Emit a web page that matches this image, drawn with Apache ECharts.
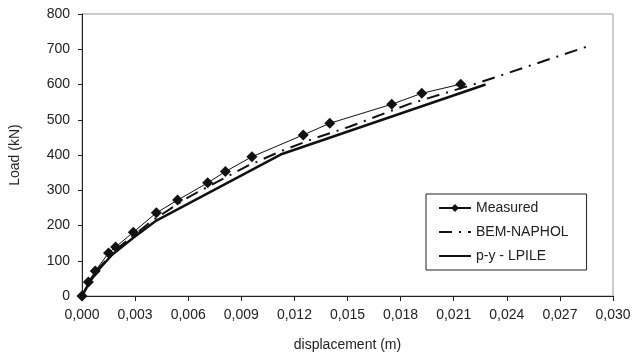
<!DOCTYPE html>
<html>
<head>
<meta charset="utf-8">
<script src="https://cdn.jsdelivr.net/npm/echarts@6/dist/echarts.min.js"></script>
<style>
  html, body { margin: 0; padding: 0; background: #fff; }
  #chart { width: 636px; height: 358px; }
</style>
</head>
<body>
<div id="chart"></div>
<script>
// measured load test
var measuredX = [0, 0.00036, 0.00075, 0.0015, 0.0019, 0.0029, 0.0042, 0.0054, 0.0071, 0.0081, 0.0096, 0.0125, 0.0140, 0.0175, 0.0192, 0.0214];
var measuredY = [0, 40, 71, 122, 139, 181, 236, 272, 321, 353, 395, 457, 490, 544, 575, 601];

// BEM-NAPHOL
var bemX = [0, 0.0005, 0.001, 0.002, 0.003, 0.004, 0.006, 0.0093, 0.0112, 0.013, 0.0151, 0.0185, 0.0223, 0.0285];
var bemY = [0, 48, 82, 135, 175, 215, 280, 368, 410, 445, 480, 545, 603, 707];

// p-y LPILE
var lpileX = [0, 0.0005, 0.001, 0.0017, 0.0029, 0.0042, 0.0113, 0.0228];
var lpileY = [0, 45, 78, 117, 165, 214, 403, 600];

function pairs(xs, ys) {
  return xs.map(function (x, i) { return [x, ys[i]]; });
}

var chart = echarts.init(document.getElementById("chart"));
var font = "'Liberation Sans', Arial, sans-serif";

var option = {
  animation: false,
  textStyle: { fontFamily: font },
  grid: {
    left: 81,
    right: 23,
    top: 14,
    bottom: 62,
    show: true,
    borderColor: "#999",
    borderWidth: 1,
  },
  legend: {
    orient: "vertical",
    left: 426,
    top: 194,
    itemWidth: 32,
    itemHeight: 10,
    itemGap: 8,
    padding: [6, 18, 6, 12],
    borderColor: "#222",
    borderWidth: 1,
    textStyle: { fontSize: 14, color: "#222", fontFamily: font, lineHeight: 16 },
    data: [
      { name: "Measured" },
      { name: "BEM-NAPHOL", itemStyle: { opacity: 0 } },
      { name: "p-y - LPILE", itemStyle: { opacity: 0 } },
    ],
  },
  xAxis: {
    type: "value",
    min: 0,
    max: 0.03,
    interval: 0.003,
    name: "displacement (m)",
    nameLocation: "middle",
    nameGap: 42,
    nameTextStyle: { fontSize: 14, color: "#222" },
    axisLine: { lineStyle: { color: "#222", width: 1 } },
    axisTick: { show: true, length: 5, lineStyle: { color: "#222" } },
    axisLabel: {
      fontSize: 14,
      color: "#222",
      margin: 12,
      formatter: function (v) { return v.toFixed(3).replace(".", ","); },
    },
    splitLine: { show: false },
  },
  yAxis: {
    type: "value",
    min: 0,
    max: 800,
    interval: 100,
    name: "Load (kN)",
    nameLocation: "middle",
    nameGap: 60,
    nameTextStyle: { fontSize: 14, color: "#222" },
    axisLine: { show: true, lineStyle: { color: "#222", width: 1 } },
    axisTick: { show: true, length: 4, lineStyle: { color: "#222" } },
    axisLabel: { fontSize: 14, color: "#222", margin: 12 },
    splitLine: { show: false },
  },
  series: [
    {
      name: "Measured",
      type: "line",
      data: pairs(measuredX, measuredY),
      symbol: "diamond",
      symbolSize: 11,
      showAllSymbol: true,
      itemStyle: { color: "#111" },
      lineStyle: { color: "#111", width: 1 },
      z: 4,
    },
    {
      name: "BEM-NAPHOL",
      type: "line",
      data: pairs(bemX, bemY),
      symbol: "none",
      itemStyle: { color: "#111" },
      lineStyle: { color: "#111", width: 2, type: [13, 7, 2, 7] },
      z: 3,
    },
    {
      name: "p-y - LPILE",
      type: "line",
      data: pairs(lpileX, lpileY),
      symbol: "none",
      itemStyle: { color: "#111" },
      lineStyle: { color: "#111", width: 2.5 },
      z: 2,
    },
  ],
};

chart.setOption(option);
</script>
</body>
</html>
